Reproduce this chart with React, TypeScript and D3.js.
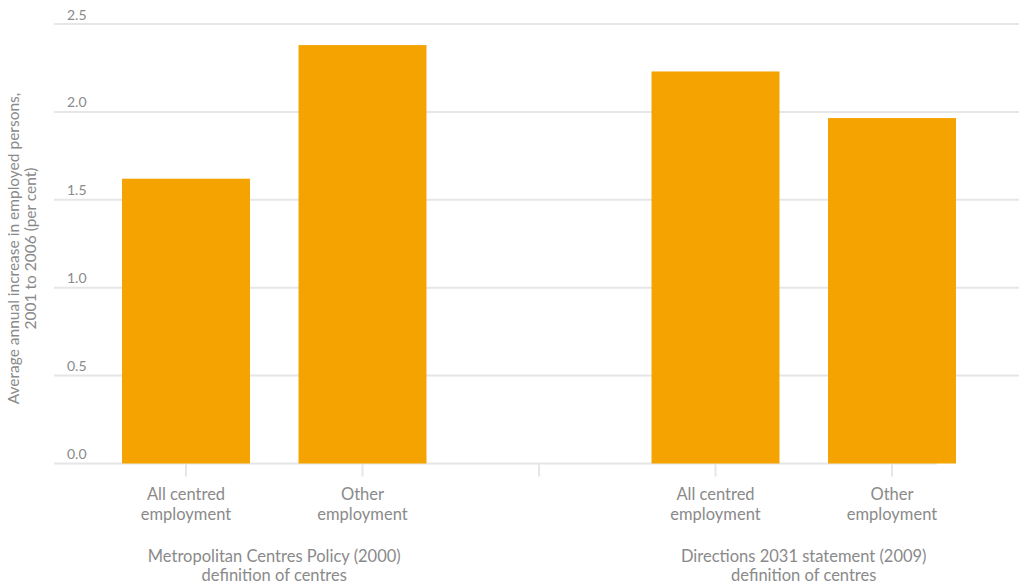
import React from "react";
import * as d3 from "d3";

const categories = ["c1", "c2", "gap", "c3", "c4"];
const categoryLabels: string[][] = [
  ["All centred", "employment"],
  ["Other", "employment"],
  [],
  ["All centred", "employment"],
  ["Other", "employment"],
];
const values: (number | null)[] = [1.62, 2.38, null, 2.23, 1.965];
const groupLabels: { cats: string[]; lines: string[] }[] = [
  { cats: ["c1", "c2"], lines: ["Metropolitan Centres Policy (2000)", "definition of centres"] },
  { cats: ["c3", "c4"], lines: ["Directions 2031 statement (2009)", "definition of centres"] },
];
const yTicks = [0, 0.5, 1.0, 1.5, 2.0, 2.5];
const yTitle = ["Average annual increase in employed persons,", "2001 to 2006 (per cent)"];

const W = 1019;
const H = 587;
const FONT = "Lato, 'Open Sans', sans-serif";
const TEXT = "#8a8a8a";
const GRID = "#e6e6e6";
const BAR = "#f4a300";

export default function App() {
  const y = d3.scaleLinear().domain([0, 2.5]).range([463.5, 24]);
  const x = d3
    .scaleBand<string>()
    .domain(categories)
    .range([97.75, 980.25])
    .paddingInner(0.275)
    .paddingOuter(0.1375);
  const gridLeft = 54;
  const axisRight = 937;
  const center = (c: string) => (x(c) as number) + x.bandwidth() / 2;

  return (
    <svg
      width={W}
      height={H}
      style={{ position: "absolute", left: 0, top: 0, fontFamily: FONT }}
    >
      <rect width={W} height={H} fill="#fff" />
      {yTicks.map((t) => (
        <g key={t}>
          <line
            x1={gridLeft}
            x2={t === 0 ? axisRight : W}
            y1={y(t)}
            y2={y(t)}
            stroke={GRID}
            strokeWidth={2}
          />
          <text x={67} y={y(t) - 4.5} fill={TEXT} fontSize={14}>
            {d3.format(".1f")(t)}
          </text>
        </g>
      ))}
      {categories.map((c) => (
        <line
          key={"tk" + c}
          x1={center(c)}
          x2={center(c)}
          y1={y(0)}
          y2={y(0) + 13}
          stroke={GRID}
          strokeWidth={2}
        />
      ))}
      {categories.map((c, i) =>
        values[i] == null ? null : (
          <rect
            key={"b" + c}
            x={x(c)}
            y={y(values[i] as number)}
            width={x.bandwidth()}
            height={y(0) - y(values[i] as number)}
            fill={BAR}
          />
        )
      )}
      {categories.map((c, i) =>
        categoryLabels[i].map((l, j) => (
          <text
            key={"cl" + c + j}
            x={center(c)}
            y={500 + j * 20}
            textAnchor="middle"
            fill={TEXT}
            fontSize={16.5}
          >
            {l}
          </text>
        ))
      )}
      {groupLabels.map((g, gi) => {
        const cx = (center(g.cats[0]) + center(g.cats[g.cats.length - 1])) / 2;
        return g.lines.map((l, j) => (
          <text
            key={"g" + gi + j}
            x={cx}
            y={561.5 + j * 19.5}
            textAnchor="middle"
            fill={TEXT}
            fontSize={16.5}
          >
            {l}
          </text>
        ));
      })}
      <g transform={`translate(0, ${248.5}) rotate(-90)`}>
        {yTitle.map((l, j) => (
          <text
            key={"yt" + j}
            x={0}
            y={19 + j * 17}
            textAnchor="middle"
            fill={TEXT}
            fontSize={15.5}
          >
            {l}
          </text>
        ))}
      </g>
    </svg>
  );
}
